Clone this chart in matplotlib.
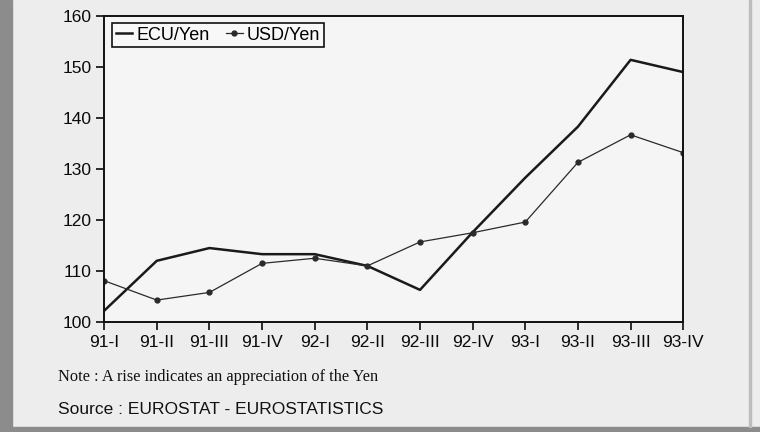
import matplotlib.pyplot as plt
from matplotlib.patches import Rectangle

quarters = ["91-I", "91-II", "91-III", "91-IV", "92-I", "92-II",
            "92-III", "92-IV", "93-I", "93-II", "93-III", "93-IV"]
ecu_yen = [102.2, 112.0, 114.5, 113.3, 113.3, 111.0,
           106.3, 117.6, 128.3, 138.3, 151.4, 149.0]
usd_yen = [108.1, 104.3, 105.8, 111.5, 112.5, 111.0,
           115.7, 117.5, 119.6, 131.3, 136.7, 133.2]

plt.rcParams['font.family'] = ['Liberation Sans', 'DejaVu Sans']

fig = plt.figure(figsize=(7.6, 4.32), dpi=100, facecolor='#ededed')
ax = fig.add_axes([0.137, 0.2546, 0.762, 0.7084])
ax.set_facecolor('#f5f5f5')

x = list(range(len(quarters)))
ax.plot(x, ecu_yen, color='#1a1a1a', lw=1.8, label='ECU/Yen')
ax.plot(x, usd_yen, color='#2a2a2a', lw=0.9, marker='o', ms=3.5,
        label='USD/Yen')

ax.set_xlim(0, len(quarters) - 1)
ax.set_ylim(100, 160)
ax.set_yticks(range(100, 161, 10))
ax.set_xticks(x)
ax.set_xticklabels(quarters)
ax.tick_params(axis='both', direction='out', length=6, width=1.2,
               labelsize=12.5, colors='#0a0a0a', pad=3)
for s in ax.spines.values():
    s.set_linewidth(1.4)
    s.set_color('#111111')

leg = ax.legend(loc='upper left', ncol=2, frameon=True, fancybox=False,
                fontsize=13, handlelength=0.9, handletextpad=0.25,
                columnspacing=0.9, borderpad=0.2,
                bbox_to_anchor=(0.005, 0.995), borderaxespad=0.3)
leg.get_frame().set_edgecolor('#111111')
leg.get_frame().set_linewidth(1.2)
leg.get_frame().set_facecolor('#f8f8f8')
leg.get_frame().set_alpha(1)

fig.text(0.076, 0.127, "Note : A rise indicates an appreciation of the Yen",
         family=['Liberation Serif', 'DejaVu Serif'], fontsize=11.8,
         color='#111111', va='center')
fig.text(0.076, 0.052, "Source : EUROSTAT - EUROSTATISTICS",
         fontsize=12.5, color='#111111', va='center')

# scanned page border
fig.patches.append(Rectangle((0, 0), 0.016, 1, transform=fig.transFigure,
                             color='#8c8c8c', zorder=0))
fig.patches.append(Rectangle((0, 0), 1, 0.012, transform=fig.transFigure,
                             color='#8c8c8c', zorder=0))
fig.patches.append(Rectangle((0.985, 0.012), 0.003, 0.988,
                             transform=fig.transFigure,
                             color='#bdbdbd', zorder=0))

fig.savefig('out.png', dpi=100, facecolor=fig.get_facecolor())
